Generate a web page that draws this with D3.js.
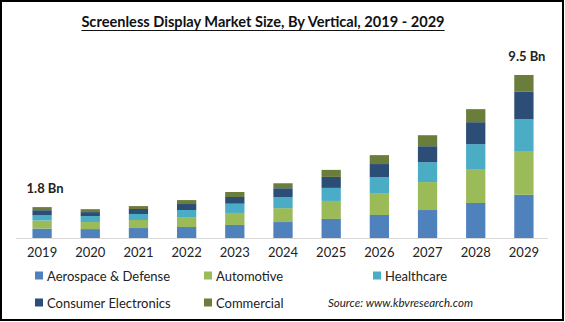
<!DOCTYPE html>
<html lang="en">
  <head>
    <meta charset="utf-8">
    <title>Screenless Display Market Size</title>
    <script src="https://cdnjs.cloudflare.com/ajax/libs/d3/7.8.5/d3.min.js"></script>
    <style>
      html, body { margin: 0; padding: 0; background: #fff; }
      svg { display: block; font-family: "Lato", "Open Sans", sans-serif; }
      .tick line, .domain { display: none; }
    </style>
  </head>
  <body>
    <script type="text/javascript">

    // market size by vertical, USD billion
    const years = ["2019", "2020", "2021", "2022", "2023", "2024", "2025", "2026", "2027", "2028", "2029"];
    const aerospace  = [0.55, 0.52, 0.58, 0.64, 0.76, 0.93, 1.11, 1.34, 1.63, 2.04, 2.52];
    const automotive = [0.47, 0.41, 0.47, 0.58, 0.70, 0.81, 1.05, 1.28, 1.63, 1.98, 2.55];
    const healthcare = [0.30, 0.35, 0.35, 0.41, 0.54, 0.64, 0.76, 0.93, 1.16, 1.45, 1.86];
    const consumer   = [0.30, 0.23, 0.29, 0.35, 0.39, 0.52, 0.64, 0.76, 0.93, 1.28, 1.59];
    const commercial = [0.18, 0.17, 0.17, 0.23, 0.29, 0.29, 0.41, 0.52, 0.64, 0.76, 0.98];

    const seriesNames = ["Aerospace & Defense", "Automotive", "Healthcare", "Consumer Electronics", "Commercial"];
    const seriesColors = ["#4f81bd", "#9bbb59", "#4bacc6", "#2c4d75", "#6b7d3a"];
    const callouts = [{ year: "2019", text: "1.8 Bn" }, { year: "2029", text: "9.5 Bn" }];

    const w = 565, h = 322;
    const base = 238;

    const rows = years.map((y, i) => ({
      year: y,
      "Aerospace & Defense": aerospace[i],
      "Automotive": automotive[i],
      "Healthcare": healthcare[i],
      "Consumer Electronics": consumer[i],
      "Commercial": commercial[i]
    }));
    const stacked = d3.stack().keys(seriesNames)(rows);

    const x = d3.scaleBand().domain(years).range([18, 548]).paddingInner(0.6).paddingOuter(0.3);
    const y = d3.scaleLinear().domain([0, 9.5]).range([base, 75]);
    const color = d3.scaleOrdinal().domain(seriesNames).range(seriesColors);

    const svg = d3.select("body").append("svg").attr("width", w).attr("height", h);

    // frame
    svg.append("rect")
      .attr("x", 1).attr("y", 1).attr("width", w - 3).attr("height", h - 3)
      .attr("fill", "none").attr("stroke", "#000").attr("stroke-width", 2);

    // title
    const title = svg.append("text")
      .attr("x", 263).attr("y", 27)
      .attr("text-anchor", "middle")
      .attr("font-size", 14.6).attr("font-weight", "bold").attr("fill", "#111")
      .text("Screenless Display Market Size, By Vertical, 2019 - 2029");
    const tb = title.node().getBBox();
    svg.append("line")
      .attr("x1", tb.x).attr("x2", tb.x + tb.width)
      .attr("y1", 30.5).attr("y2", 30.5)
      .attr("stroke", "#111").attr("stroke-width", 1.2);

    // baseline
    svg.append("line")
      .attr("x1", 16).attr("x2", 548)
      .attr("y1", base + 0.5).attr("y2", base + 0.5)
      .attr("stroke", "#d9d9d9").attr("stroke-width", 1);

    // stacked bars
    svg.append("g").selectAll("g")
      .data(stacked)
      .join("g")
      .attr("fill", d => color(d.key))
      .selectAll("rect")
      .data(d => d)
      .join("rect")
      .attr("x", d => x(d.data.year))
      .attr("y", d => y(d[1]))
      .attr("width", x.bandwidth())
      .attr("height", d => y(d[0]) - y(d[1]));

    // x axis labels
    svg.append("g")
      .attr("transform", "translate(0," + (base + 6) + ")")
      .call(d3.axisBottom(x).tickSize(0).tickPadding(4))
      .selectAll("text")
      .attr("font-size", 13).attr("fill", "#222")
      .attr("font-family", "Lato, 'Open Sans', sans-serif");

    // totals
    const totals = years.map((yr, i) => aerospace[i] + automotive[i] + healthcare[i] + consumer[i] + commercial[i]);
    svg.append("g").selectAll("text")
      .data(callouts)
      .join("text")
      .attr("x", d => x(d.year) + x.bandwidth() / 2 + 3)
      .attr("y", d => y(totals[years.indexOf(d.year)]) - 14)
      .attr("text-anchor", "middle")
      .attr("font-size", 13).attr("font-weight", "bold").attr("fill", "#222")
      .text(d => d.text);

    // legend
    const legendPos = [[35, 276], [204, 276], [373, 276], [35, 303], [204, 303]];
    const legend = svg.append("g").selectAll("g")
      .data(seriesNames)
      .join("g")
      .attr("transform", (d, i) => "translate(" + legendPos[i][0] + "," + legendPos[i][1] + ")");
    legend.append("rect")
      .attr("x", 0).attr("y", -4.5).attr("width", 8).attr("height", 8)
      .attr("fill", d => color(d));
    legend.append("text")
      .attr("x", 12).attr("y", 0).attr("dy", "0.35em")
      .attr("font-size", 13).attr("fill", "#222")
      .text(d => d);

    svg.append("text")
      .attr("x", 328).attr("y", 303).attr("dy", "0.35em")
      .attr("font-size", 11.5).attr("font-style", "italic").attr("fill", "#222")
      .text("Source:  www.kbvresearch.com");

    </script>
  </body>
</html>
